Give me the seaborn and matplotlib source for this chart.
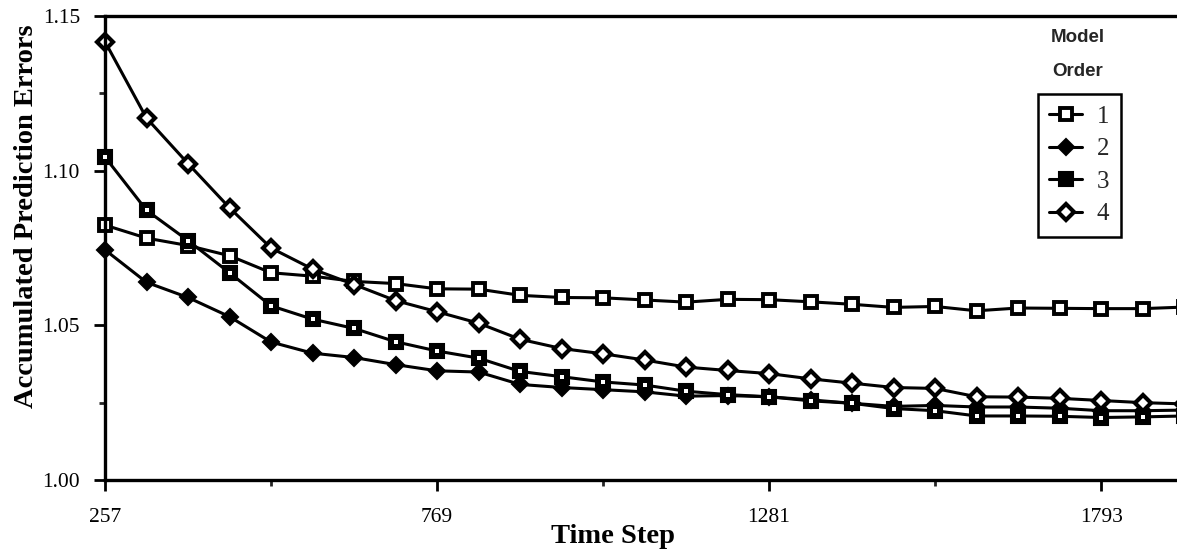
import matplotlib
matplotlib.use("Agg")
import matplotlib.pyplot as plt
import seaborn as sns
import pandas as pd

# ---------------- data ----------------
time_steps = [257, 321, 385, 449, 513, 577, 641, 705, 769, 833, 897, 961, 1025,
              1089, 1153, 1217, 1281, 1345, 1409, 1473, 1537, 1601, 1665, 1729,
              1793, 1857, 1921]
order1 = [1.0824, 1.0782, 1.0758, 1.0725, 1.0670, 1.0659, 1.0642, 1.0635, 1.0618,
          1.0617, 1.0597, 1.0590, 1.0589, 1.0582, 1.0575, 1.0584, 1.0583, 1.0576,
          1.0568, 1.0558, 1.0561, 1.0547, 1.0556, 1.0555, 1.0554, 1.0554, 1.0559]
order2 = [1.0744, 1.0639, 1.0590, 1.0528, 1.0446, 1.0410, 1.0396, 1.0373, 1.0353,
          1.0349, 1.0309, 1.0299, 1.0292, 1.0285, 1.0271, 1.0273, 1.0269, 1.0259,
          1.0248, 1.0238, 1.0241, 1.0236, 1.0236, 1.0232, 1.0224, 1.0224, 1.0226]
order3 = [1.1044, 1.0872, 1.0774, 1.0670, 1.0563, 1.0520, 1.0490, 1.0447, 1.0417,
          1.0394, 1.0351, 1.0334, 1.0317, 1.0307, 1.0287, 1.0276, 1.0269, 1.0256,
          1.0248, 1.0231, 1.0224, 1.0207, 1.0207, 1.0206, 1.0202, 1.0204, 1.0207]
order4 = [1.1417, 1.1170, 1.1023, 1.0880, 1.0750, 1.0682, 1.0632, 1.0580, 1.0544,
          1.0507, 1.0455, 1.0425, 1.0408, 1.0388, 1.0365, 1.0354, 1.0344, 1.0327,
          1.0313, 1.0299, 1.0296, 1.0269, 1.0268, 1.0264, 1.0257, 1.0250, 1.0246]
order_labels = ["1", "2", "3", "4"]
x_major = [257, 769, 1281, 1793]
x_minor = [513, 1025, 1537]
y_major = [1.00, 1.05, 1.10, 1.15]
y_major_labels = ["1.00", "1.05", "1.10", "1.15"]
y_minor = [1.025, 1.075, 1.125]

# ---------------- style ----------------
sns.set_style("ticks")
plt.rcParams["font.family"] = ["Liberation Serif", "DejaVu Serif"]

W, H = 1177, 550
fig = plt.figure(figsize=(W / 100, H / 100), dpi=100)
ax = fig.add_axes([105 / W, 1 - 480 / H, 1 - 105 / W, 464 / H])

styles = {
    "1": dict(marker="s", markersize=8, markerfacecolor="white",
              markeredgecolor="black", markeredgewidth=2.8),
    "2": dict(marker="D", markersize=8, markerfacecolor="black",
              markeredgecolor="black", markeredgewidth=1.5),
    "3": dict(marker="s", markersize=10, markerfacecolor="black",
              markeredgecolor="black", markeredgewidth=1.5),
    "4": dict(marker="D", markersize=8.5, markerfacecolor="white",
              markeredgecolor="black", markeredgewidth=3.0),
}
series = {"1": order1, "2": order2, "3": order3, "4": order4}

handles = []
for lab in order_labels:
    df = pd.DataFrame({"t": time_steps, "v": series[lab]})
    sns.lineplot(data=df, x="t", y="v", ax=ax, color="black", linewidth=2.2,
                 label=lab, clip_on=False, legend=False, **styles[lab])
    handles.append(ax.lines[-1])

# white centre dot of the filled squares
df3 = pd.DataFrame({"t": time_steps, "v": order3})
sns.scatterplot(data=df3, x="t", y="v", ax=ax, color="white", s=5,
                marker="s", linewidth=0, clip_on=False, legend=False, zorder=5)

ax.set_xlim(257, 1910)
ax.set_ylim(1.0, 1.15)

ax.set_xticks(x_major)
ax.set_xticklabels([str(v) for v in x_major])
ax.set_xticks(x_minor, minor=True)
ax.set_yticks(y_major)
ax.set_yticklabels(y_major_labels)
ax.set_yticks(y_minor, minor=True)

ax.tick_params(axis="both", which="major", length=8, width=2, direction="out",
               labelsize=15.5, color="black", labelcolor="black")
ax.tick_params(axis="x", which="major", pad=12)
ax.tick_params(axis="y", which="major", pad=10)
ax.tick_params(axis="both", which="minor", length=4, width=2, direction="out")

for side in ["left", "bottom", "top"]:
    ax.spines[side].set_visible(True)
    ax.spines[side].set_linewidth(2.4)
    ax.spines[side].set_color("black")
ax.spines["right"].set_visible(False)

ax.set_xlabel("Time Step", fontsize=20.5, fontweight="bold", color="black")
ax.set_ylabel("Accumulated Prediction Errors", fontsize=20.5, fontweight="bold",
              color="black")
ax.xaxis.set_label_coords((613 - 105) / (W - 105), -0.095)
ax.yaxis.set_label_coords((39 - 105) / (W - 105), (480 - 216) / 464)

# legend title (two lines, sans bold)
fig.text(1078 / W, 1 - 37 / H, "Model", ha="center", va="center",
         fontsize=13.5, fontweight="bold", family=["Liberation Sans", "DejaVu Sans"])
fig.text(1078 / W, 1 - 71 / H, "Order", ha="center", va="center",
         fontsize=13.5, fontweight="bold", family=["Liberation Sans", "DejaVu Sans"])

leg = ax.legend(handles=handles, labels=order_labels, loc="upper left",
                bbox_to_anchor=(1038 / W, 1 - 94 / H), bbox_transform=fig.transFigure,
                fontsize=18, frameon=True, fancybox=False, handlelength=1.3,
                handletextpad=0.6, labelspacing=0.4, borderpad=0.45,
                borderaxespad=0)
leg.get_frame().set_edgecolor("black")
leg.get_frame().set_linewidth(1.8)
leg.get_frame().set_facecolor("white")
leg.get_frame().set_alpha(1)

fig.savefig("out.png", dpi=100, facecolor="white")
